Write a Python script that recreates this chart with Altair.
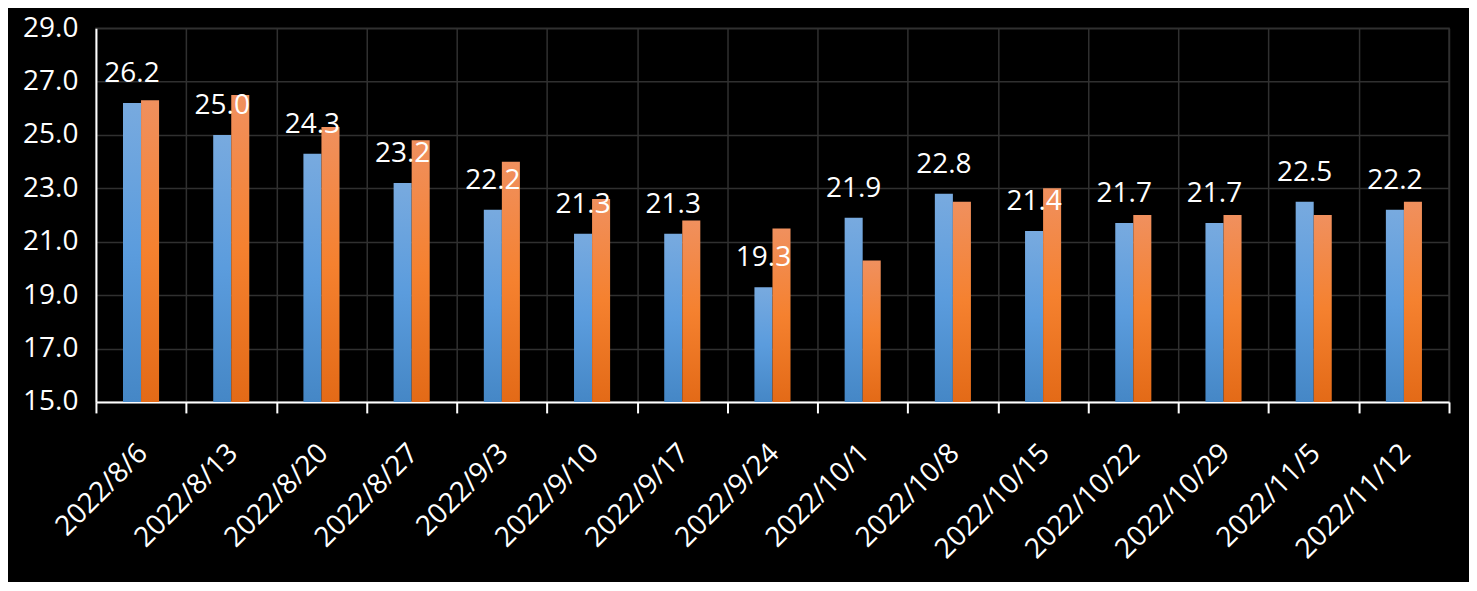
import altair as alt
import pandas as pd

dates = ["2022/8/6", "2022/8/13", "2022/8/20", "2022/8/27", "2022/9/3", "2022/9/10",
         "2022/9/17", "2022/9/24", "2022/10/1", "2022/10/8", "2022/10/15", "2022/10/22",
         "2022/10/29", "2022/11/5", "2022/11/12"]
series1 = [26.2, 25.0, 24.3, 23.2, 22.2, 21.3, 21.3, 19.3, 21.9, 22.8, 21.4, 21.7, 21.7, 22.5, 22.2]
series2 = [26.3, 26.5, 25.3, 24.8, 24.0, 22.6, 21.8, 21.5, 20.3, 22.5, 23.0, 22.0, 22.0, 22.0, 22.5]
series_names = ["系列1", "系列2"]
y_ticks = [15, 17, 19, 21, 23, 25, 27, 29]

rows = []
for d, a, b in zip(dates, series1, series2):
    rows.append({"date": d, "series": series_names[0], "value": a})
    rows.append({"date": d, "series": series_names[1], "value": b})
df = pd.DataFrame(rows)

FONT = "Open Sans"
GRID = "#303030"

x_enc = alt.X("date:N", sort=dates,
              scale=alt.Scale(paddingInner=0, paddingOuter=0),
              axis=alt.Axis(title=None, labelAngle=-45, labelAlign="right", labelBaseline="top",
                            tickBand="extent", tickColor="white", tickWidth=2, tickSize=11,
                            domainColor="white", domainWidth=2, grid=True, gridColor=GRID,
                            gridWidth=1.5, labelColor="white", labelFontSize=28, labelFont=FONT,
                            labelPadding=26, labelOffset=-8))
offset_domain = ["_l"] + series_names + ["_r"]
xo_enc = alt.XOffset("series:N",
                     scale=alt.Scale(domain=offset_domain, paddingOuter=0.5, paddingInner=0))
y_enc = alt.Y("value:Q",
              scale=alt.Scale(domain=[15, 29], zero=False, nice=False),
              axis=alt.Axis(title=None, values=y_ticks, format=".1f", ticks=False,
                            domainColor="white", domainWidth=2, labelColor="white",
                            labelFontSize=28, labelFont=FONT, gridColor=GRID, gridWidth=1.5,
                            labelPadding=18))

blue_grad = alt.Gradient(gradient="linear", x1=0, x2=0, y1=0, y2=1,
                         stops=[alt.GradientStop(color="#78AADF", offset=0),
                                alt.GradientStop(color="#5B9CDD", offset=0.5),
                                alt.GradientStop(color="#4587C6", offset=1)])
orange_grad = alt.Gradient(gradient="linear", x1=0, x2=0, y1=0, y2=1,
                           stops=[alt.GradientStop(color="#F0905E", offset=0),
                                  alt.GradientStop(color="#F5812F", offset=0.5),
                                  alt.GradientStop(color="#E36A17", offset=1)])

base = alt.Chart(df)

bars1 = base.transform_filter(alt.datum.series == series_names[0]).mark_bar(
    color=blue_grad).encode(x=x_enc, xOffset=xo_enc, y=y_enc, y2=alt.datum(15))
bars2 = base.transform_filter(alt.datum.series == series_names[1]).mark_bar(
    color=orange_grad).encode(x=x_enc, xOffset=xo_enc, y=y_enc, y2=alt.datum(15))
labels = base.transform_filter(alt.datum.series == series_names[0]).mark_text(
    color="white", font=FONT, fontSize=28, baseline="alphabetic", dy=-21).encode(
    x=x_enc, xOffset=xo_enc, y=y_enc, text=alt.Text("value:Q", format=".1f"))

chart = alt.layer(bars1, bars2, labels).properties(
    width=1354, height=374,
    autosize=alt.AutoSizeParams(type="none"),
    padding={"left": 88, "top": 20, "right": 20, "bottom": 180},
    background="black",
).configure_view(stroke=GRID, strokeWidth=1.5)

chart.save("out.html", embed_options={"renderer": "svg", "actions": False})
